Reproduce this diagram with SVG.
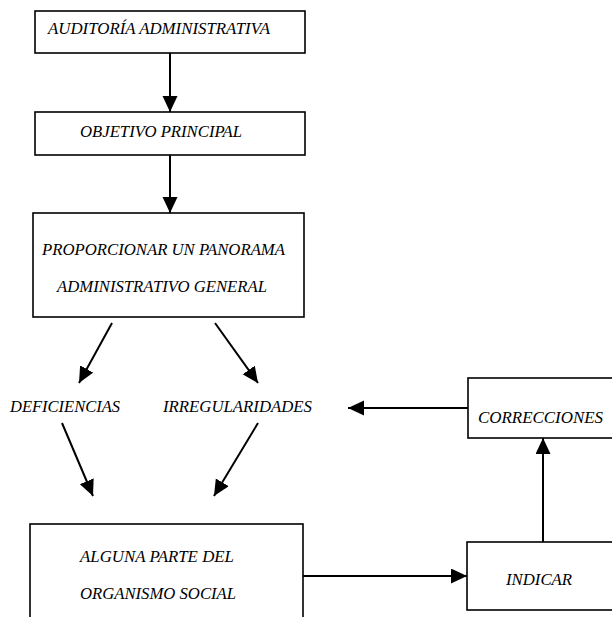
<svg xmlns="http://www.w3.org/2000/svg" width="612" height="617" viewBox="0 0 612 617">
  <style>
    .box { fill: #fff; stroke: #000; stroke-width: 1.6; }
    .lbl { font-family: "Liberation Serif", "Times New Roman", serif; font-style: italic; font-size: 16px; fill: #000; }
    .edge { fill: none; stroke: #000; stroke-width: 2; }
  </style>
  <defs>
    <marker id="arrow" markerUnits="userSpaceOnUse" markerWidth="17" markerHeight="16" refX="16" refY="7.5" orient="auto">
      <path d="M0,0 L16,7.5 L0,15 z" fill="#000"/>
    </marker>
  </defs>
  <rect width="612" height="617" fill="#fff"/>

  <g id="edges">
    <line class="edge" x1="170" y1="53" x2="170" y2="112" marker-end="url(#arrow)"/>
    <line class="edge" x1="170" y1="155" x2="170" y2="213" marker-end="url(#arrow)"/>
    <line class="edge" x1="112" y1="323" x2="79" y2="383" marker-end="url(#arrow)"/>
    <line class="edge" x1="215" y1="323" x2="258" y2="383" marker-end="url(#arrow)"/>
    <line class="edge" x1="62" y1="423" x2="93" y2="496" marker-end="url(#arrow)"/>
    <line class="edge" x1="258" y1="423" x2="214" y2="496" marker-end="url(#arrow)"/>
    <line class="edge" x1="468" y1="408" x2="348" y2="408" marker-end="url(#arrow)"/>
    <line class="edge" x1="303" y1="576" x2="467" y2="576" marker-end="url(#arrow)"/>
    <line class="edge" x1="543" y1="542" x2="543" y2="438" marker-end="url(#arrow)"/>
  </g>

  <g id="auditoria">
    <rect class="box" x="35" y="11" width="270" height="42"/>
    <text class="lbl" x="48" y="34" textLength="222" lengthAdjust="spacingAndGlyphs">AUDITORÍA ADMINISTRATIVA</text>
  </g>
  <g id="objetivo">
    <rect class="box" x="35" y="112" width="270" height="43"/>
    <text class="lbl" x="80" y="137" textLength="162" lengthAdjust="spacingAndGlyphs">OBJETIVO PRINCIPAL</text>
  </g>
  <g id="panorama">
    <rect class="box" x="33" y="213" width="271" height="104"/>
    <text class="lbl" x="42" y="255" textLength="243" lengthAdjust="spacingAndGlyphs">PROPORCIONAR UN PANORAMA</text>
    <text class="lbl" x="57" y="292" textLength="210" lengthAdjust="spacingAndGlyphs">ADMINISTRATIVO GENERAL</text>
  </g>
  <g id="deficiencias">
    <text class="lbl" x="10" y="412" textLength="110" lengthAdjust="spacingAndGlyphs">DEFICIENCIAS</text>
  </g>
  <g id="irregularidades">
    <text class="lbl" x="163" y="412" textLength="149" lengthAdjust="spacingAndGlyphs">IRREGULARIDADES</text>
  </g>
  <g id="correcciones">
    <rect class="box" x="468" y="378" width="150" height="60"/>
    <text class="lbl" x="478" y="423" textLength="125" lengthAdjust="spacingAndGlyphs">CORRECCIONES</text>
  </g>
  <g id="organismo">
    <rect class="box" x="30" y="524" width="273" height="100"/>
    <text class="lbl" x="80" y="562" textLength="154" lengthAdjust="spacingAndGlyphs">ALGUNA PARTE DEL</text>
    <text class="lbl" x="80" y="599" textLength="156" lengthAdjust="spacingAndGlyphs">ORGANISMO SOCIAL</text>
  </g>
  <g id="indicar">
    <rect class="box" x="467" y="542" width="150" height="68"/>
    <text class="lbl" x="506" y="585" textLength="66" lengthAdjust="spacingAndGlyphs">INDICAR</text>
  </g>
</svg>
